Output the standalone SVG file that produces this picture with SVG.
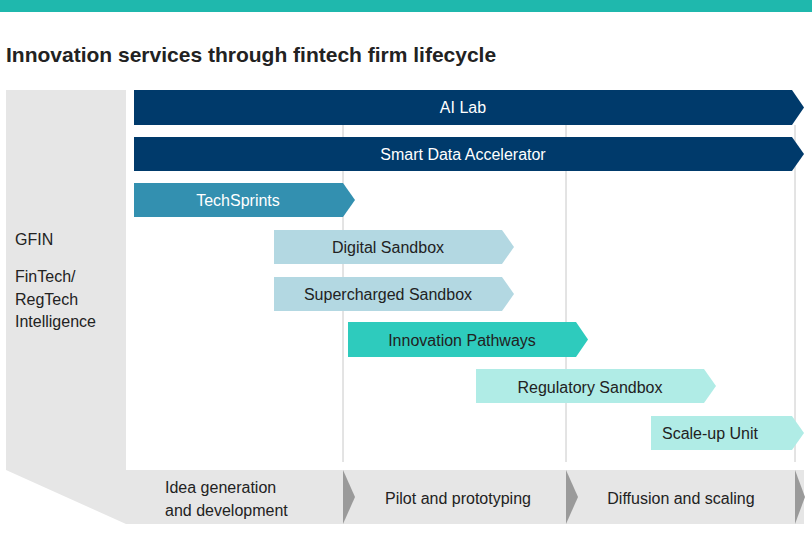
<svg xmlns="http://www.w3.org/2000/svg" width="812" height="550" viewBox="0 0 812 550">
<style>
text{font-family:"Liberation Sans",Arial,sans-serif;font-size:16px;fill:#222}
.w{fill:#fff}
.c{text-anchor:middle}
.grid{stroke:#c8c8c8;stroke-width:1}
</style>
<rect width="812" height="550" fill="#fff"/>
<rect x="0" y="0" width="812" height="12" fill="#1fb8ad"/>
<text x="6" y="62" style="font-size:21px;font-weight:bold">Innovation services through fintech firm lifecycle</text>
<g id="left-panel">
<polygon points="6,90 126,90 126,524 6,470" fill="#e6e6e6"/>
<text x="15" y="245">GFIN</text>
<text x="15" y="282">FinTech/</text>
<text x="15" y="305">RegTech</text>
<text x="15" y="327">Intelligence</text>
</g>
<g id="grid">
<line class="grid" x1="343" y1="125" x2="343" y2="462"/>
<line class="grid" x1="566" y1="125" x2="566" y2="462"/>
<line class="grid" x1="795" y1="125" x2="795" y2="462"/>
</g>
<g id="phases">
<rect x="126" y="470" width="678" height="54" fill="#e6e6e6"/>
<polygon points="343,470 355,497 343,524" fill="#9a9a9a"/>
<polygon points="566,470 578,497 566,524" fill="#9a9a9a"/>
<polygon points="795,470 805,497 795,524" fill="#9a9a9a"/>
<text x="165" y="493">Idea generation</text>
<text x="165" y="516">and development</text>
<text x="458" y="504" class="c">Pilot and prototyping</text>
<text x="681" y="504" class="c">Diffusion and scaling</text>
</g>
<g id="ai-lab"><polygon points="134,90 792,90 804,107.5 792,125 134,125" fill="#003a6b"/><text x="463" y="113" class="c w">AI Lab</text></g>
<g id="smart-data"><polygon points="134,137 792,137 804,154 792,171 134,171" fill="#003a6b"/><text x="463" y="160" class="c w">Smart Data Accelerator</text></g>
<g id="techsprints"><polygon points="134,183 343,183 355,200 343,217 134,217" fill="#3390b0"/><text x="238" y="206" class="c w">TechSprints</text></g>
<g id="digital-sandbox"><polygon points="274,230 502,230 514,247 502,264 274,264" fill="#b3d8e2"/><text x="388" y="253" class="c">Digital Sandbox</text></g>
<g id="supercharged"><polygon points="274,277 502,277 514,294 502,311 274,311" fill="#b3d8e2"/><text x="388" y="300" class="c">Supercharged Sandbox</text></g>
<g id="innovation-pathways"><polygon points="348,322 576,322 588,339.5 576,357 348,357" fill="#2ecbbd"/><text x="462" y="346" class="c">Innovation Pathways</text></g>
<g id="regulatory-sandbox"><polygon points="476,369 704,369 716,386 704,403 476,403" fill="#b0ece6"/><text x="590" y="393" class="c">Regulatory Sandbox</text></g>
<g id="scale-up"><polygon points="651,416 792,416 804,433 792,450 651,450" fill="#b0ece6"/><text x="710" y="439" class="c">Scale-up Unit</text></g>
</svg>
